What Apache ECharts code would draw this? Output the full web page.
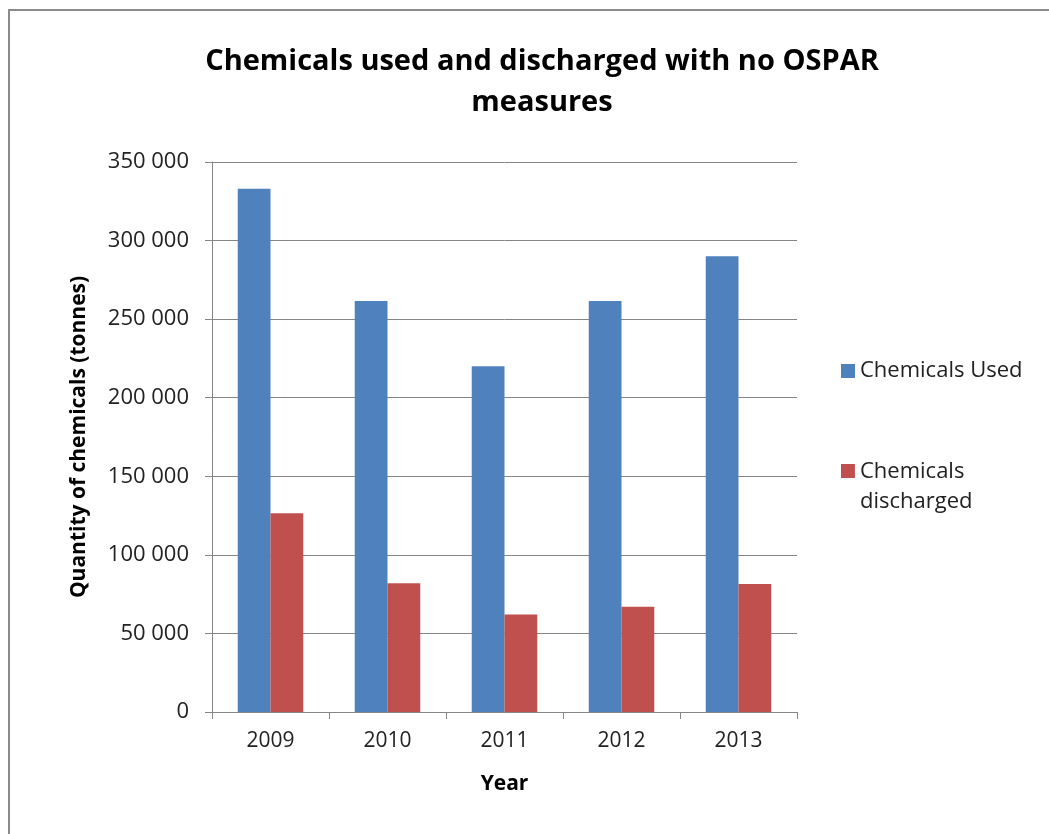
<!DOCTYPE html>
<html>
<head>
<meta charset="utf-8">
<script src="https://cdn.jsdelivr.net/npm/echarts@6/dist/echarts.min.js"></script>
<style>
  html, body { margin: 0; padding: 0; background: #fff; }
  #frame { position: absolute; left: 8px; top: 9px; width: 1060px; height: 840px;
           border-left: 2px solid #8a8a8a; border-top: 2px solid #8a8a8a; }
  #main { position: absolute; left: 0; top: 0; width: 1049px; height: 834px; }
</style>
</head>
<body>
<div id="frame"></div>
<div id="main"></div>
<script>
var years = ['2009', '2010', '2011', '2012', '2013'];
var usedValues = [333000, 261500, 220000, 261500, 290000];
var dischargedValues = [126500, 82000, 62000, 67000, 81500];
var seriesNames = ['Chemicals Used', 'Chemicals discharged'];
var seriesColors = ['#4f81bd', '#c0504d'];

var font = '"Open Sans", "DejaVu Sans", sans-serif';
var gray = '#868686';

var myChart = echarts.init(document.getElementById('main'));
var option = {
    animation: false,
    title: {
        text: 'Chemicals used and discharged with no OSPAR\nmeasures',
        left: 537,
        textAlign: 'center',
        top: 36,
        textStyle: {
            fontFamily: font,
            fontSize: 29,
            fontWeight: 'bold',
            color: '#000',
            lineHeight: 41
        }
    },
    legend: [
        {
            data: [seriesNames[0]],
            orient: 'vertical',
            left: 836,
            top: 355,
            itemWidth: 14,
            itemHeight: 14,
            icon: 'rect',
            textStyle: { fontFamily: font, fontSize: 22, color: '#222' }
        },
        {
            data: [seriesNames[1]],
            orient: 'vertical',
            left: 836,
            top: 452,
            itemWidth: 14,
            itemHeight: 46,
            icon: 'path://M0 0H10V10H0ZM0 33H0.01V33.01H0Z',
            formatter: function (name) { return 'Chemicals\ndischarged'; },
            textStyle: { fontFamily: font, fontSize: 22, color: '#222', lineHeight: 30 }
        }
    ],
    grid: {
        left: 212,
        right: 252,
        top: 162,
        bottom: 122
    },
    xAxis: {
        type: 'category',
        data: years,
        name: 'Year',
        nameLocation: 'middle',
        nameGap: 62,
        nameTextStyle: { fontFamily: font, fontSize: 21, fontWeight: 'bold', color: '#000' },
        axisLine: { lineStyle: { color: gray, width: 1 } },
        axisTick: { show: true, length: 7, lineStyle: { color: gray } },
        axisLabel: { fontFamily: font, fontSize: 21, color: '#222', margin: 19 }
    },
    yAxis: {
        type: 'value',
        min: 0,
        max: 350000,
        interval: 50000,
        name: 'Quantity of chemicals (tonnes)',
        nameLocation: 'middle',
        nameGap: 122,
        nameTextStyle: { fontFamily: font, fontSize: 21, fontWeight: 'bold', color: '#000' },
        axisLine: { show: true, lineStyle: { color: gray, width: 1 } },
        axisTick: { show: true, length: 7, lineStyle: { color: gray } },
        axisLabel: {
            fontFamily: font,
            fontSize: 22,
            color: '#222',
            margin: 23,
            formatter: function (v) {
                return String(v).replace(/\B(?=(\d{3})+(?!\d))/g, ' ');
            }
        },
        splitLine: { lineStyle: { color: gray, width: 1 } }
    },
    series: [
        {
            name: seriesNames[0],
            type: 'bar',
            data: usedValues,
            barGap: '0%',
            barCategoryGap: '44%',
            itemStyle: { color: seriesColors[0] }
        },
        {
            name: seriesNames[1],
            type: 'bar',
            data: dischargedValues,
            barGap: '0%',
            barCategoryGap: '44%',
            itemStyle: { color: seriesColors[1] }
        }
    ]
};
myChart.setOption(option);
</script>
</body>
</html>
